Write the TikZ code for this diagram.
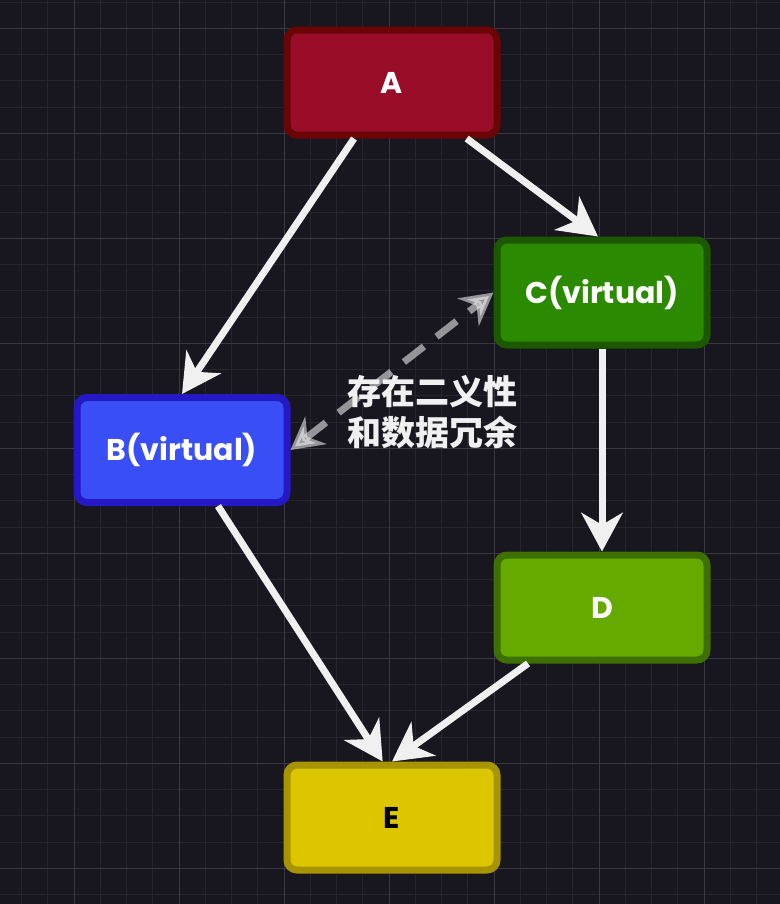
\documentclass[tikz,border=0pt]{standalone}
\usepackage{fontspec}
\setmainfont{Poppins}
\newfontfamily\cjk{Noto Sans CJK SC}
\usetikzlibrary{arrows.meta}
\definecolor{bg}{HTML}{18161F}
\definecolor{gridminor}{HTML}{26252D}
\definecolor{gridmajor}{HTML}{3A3941}
\definecolor{afill}{HTML}{9A0D28}
\definecolor{aline}{HTML}{6B0505}
\definecolor{cfill}{HTML}{2B8A00}
\definecolor{cline}{HTML}{1B5800}
\definecolor{bfill}{HTML}{3A4EF5}
\definecolor{bline}{HTML}{2419C4}
\definecolor{dfill}{HTML}{66AA00}
\definecolor{dline}{HTML}{3D7000}
\definecolor{efill}{HTML}{DCC600}
\definecolor{eline}{HTML}{A89400}
\definecolor{edgecol}{HTML}{F0F0F0}
\tikzset{
  box/.style={draw, rounded corners=7.5pt, line width=5.25pt, minimum width=157.5pt,
    minimum height=78.75pt, inner sep=0pt, font=\bfseries\fontsize{22.5}{27}\selectfont, text=white},
  flow/.style={draw=edgecol, line width=5.25pt,
    -{Stealth[length=29pt, width=31pt, inset=9pt]}},
  dflow/.style={draw=edgecol, opacity=0.58, line width=5.25pt, dash pattern=on 19pt off 12pt,
    {Stealth[length=24pt, width=26pt, inset=8pt]}-{Stealth[length=24pt, width=26pt, inset=8pt]}},
  lbl/.style={text=edgecol, align=left, font=\cjk\bfseries\fontsize{25.5}{30.5}\selectfont, inner sep=0pt}
}
\begin{document}
\begin{tikzpicture}[x=0.75pt,y=-0.75pt]
\fill[bg] (0,0) rectangle (780,904);
\useasboundingbox (0,0) rectangle (780,904);
\foreach \k in {0,...,28} \draw[gridminor, line width=0.75pt] ({21.5+26.25*\k},0) -- ++(0,904);
\foreach \k in {0,...,34} \draw[gridminor, line width=0.75pt] (0,{2.05+26.25*\k}) -- ++(780,0);
\foreach \k in {0,...,7} \draw[gridmajor, line width=0.75pt] ({74+105*(\k-1)},0) -- ++(0,904);
\foreach \k in {0,...,8} \draw[gridmajor, line width=0.75pt] (0,{28.3+105*\k}) -- ++(780,0);

\node[box, fill=afill, draw=aline] (A) at (392,82.5) {A};
\node[box, fill=cfill, draw=cline] (C) at (602,292.5) {C(virtual)};
\node[box, fill=bfill, draw=bline] (B) at (182,450) {B(virtual)};
\node[box, fill=dfill, draw=dline] (D) at (602,607.5) {D};
\node[box, fill=efill, draw=eline, text=black] (E) at (392,817.5) {E};

\draw[flow] ([xshift=-28.5pt]A.south) -- (B.north);
\draw[flow] ([xshift=56pt]A.south) -- ([xshift=-3pt]C.north);
\draw[flow] (C.south) -- (D.north);
\draw[flow] ([xshift=27pt]B.south) -- ([xshift=-7pt]E.north);
\draw[flow] ([xshift=-55.5pt]D.south) -- (E.north);
\draw[dflow] (B.east) -- (C.west);
\node[lbl] (L) at (432,412) {存在二义性\\和数据冗余};
\end{tikzpicture}
\end{document}
